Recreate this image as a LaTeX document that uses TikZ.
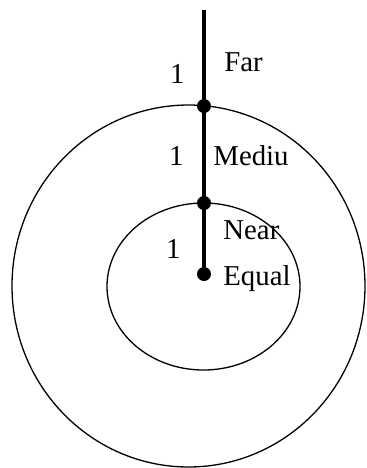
\documentclass[tikz,border=0pt]{standalone}
\usepackage{fontspec}
\setmainfont{Liberation Serif}
\usetikzlibrary{positioning}

\begin{document}
\begin{tikzpicture}[x=0.5pt,y=-0.5pt,font=\fontsize{14.4}{17}\selectfont,
 dot/.style={circle,fill,inner sep=0pt,minimum size=7pt},
 lbl/.style={inner sep=0pt,anchor=base west},
 num/.style={inner sep=0pt,anchor=base east}]
\useasboundingbox (0,0) rectangle (366,468);
\draw[line width=0.65pt](188.5,286) ellipse [x radius=88.25pt,y radius=90.5pt];
\draw[line width=0.65pt](203.5,286.5) ellipse [x radius=48.25pt,y radius=41.75pt];
\coordinate(top) at (204,10);
\node[dot](far) at (204,106){};
\node[dot](mid) at (204,203){};
\node[dot](equal) at (204,274){};
\draw[line width=2pt](top)--(far.center)--(mid.center)--(equal.center);
\node[lbl] (farl) at (224,71){Far};
\node[lbl] (midl) at (213,165.5){Mediu};
\node[lbl] (nearl) at (223,239){Near};
\node[lbl] (equall) at (223,285.5){Equal};
\node[num] (n1) at (185,83){1};
\node[num] (n2) at (184,165.5){1};
\node[num] (n3) at (181,258){1};
\end{tikzpicture}
\end{document}
